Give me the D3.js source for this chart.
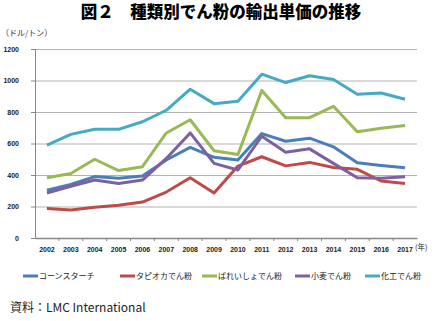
<!DOCTYPE html>
<html>
<head>
<meta charset="utf-8">
<script src="https://cdn.jsdelivr.net/npm/d3@7"></script>
<style>
body { margin: 0; background: #fff; }
text { font-family: "Noto Sans CJK JP", "Liberation Sans", sans-serif; }
</style>
</head>
<body>
<div id="chart"></div>
<script>
var years = ["2002","2003","2004","2005","2006","2007","2008","2009","2010","2011","2012","2013","2014","2015","2016","2017"];
var yTicks = [0, 200, 400, 600, 800, 1000, 1200];

var corn    = [303, 340, 390, 380, 394, 495, 575, 512, 495, 663, 614, 634, 579, 478, 461, 446];
var tapioca = [187, 178, 195, 208, 228, 292, 383, 286, 457, 516, 458, 480, 448, 436, 362, 346];
var potato  = [383, 410, 500, 428, 453, 667, 751, 554, 530, 937, 764, 764, 836, 674, 697, 714];
var wheat   = [286, 329, 368, 346, 368, 505, 667, 474, 432, 646, 545, 566, 474, 383, 379, 389];
var modified= [590, 658, 690, 690, 738, 811, 945, 853, 868, 1040, 987, 1030, 1006, 913, 921, 881];

var seriesNames = ["コーンスターチ", "タピオカでん粉", "ばれいしょでん粉", "小麦でん粉", "化工でん粉"];
var seriesColors = ["#4a7ebb", "#be4b48", "#98b954", "#7d60a0", "#46aac5"];
var seriesData = [corn, tapioca, potato, wheat, modified];

var W = 440, H = 321;
var margin = {top: 49, left: 35, right: 23, bottom: 83};
var width = W - margin.left - margin.right,
    height = H - margin.top - margin.bottom;

var svg = d3.select("#chart").append("svg")
    .attr("width", W)
    .attr("height", H);

// title
svg.append("text")
    .attr("x", 221)
    .attr("y", 18)
    .attr("text-anchor", "middle")
    .style("font-size", "16.5px")
    .style("font-weight", "900")
    .text("図２　種類別でん粉の輸出単価の推移");

svg.append("text")
    .attr("x", 1)
    .attr("y", 36)
    .style("font-size", "8px")
    .style("fill", "#333")
    .text("（ドル/トン）");

var g = svg.append("g")
    .attr("transform", "translate(" + margin.left + "," + margin.top + ")");

var x = d3.scaleBand().domain(years).range([0, width]);
var y = d3.scaleLinear().domain([0, 1200]).range([height, 0]);

// gridlines
g.selectAll(".grid")
    .data(yTicks.filter(function(d) { return d > 0; }))
    .enter().append("line")
    .attr("x1", 0).attr("x2", width)
    .attr("y1", function(d) { return y(d) + 0.5; })
    .attr("y2", function(d) { return y(d) + 0.5; })
    .attr("stroke", "#b3b3b3");

// y axis
var yAxis = g.append("g")
    .call(d3.axisLeft(y).tickValues(yTicks).tickFormat(d3.format("d")).tickSize(4).tickPadding(12));
yAxis.select(".domain").attr("stroke", "#888");
yAxis.selectAll(".tick line").attr("stroke", "#888");
yAxis.selectAll("text")
    .style("font-size", "7px")
    .style("font-family", "Liberation Sans, sans-serif")
    .style("font-weight", "bold")
    .attr("fill", "#222");

// x axis
var xAxis = g.append("g")
    .attr("transform", "translate(0," + height + ")")
    .call(d3.axisBottom(x).tickSize(0).tickPadding(9));
xAxis.select(".domain").attr("stroke", "#888").attr("stroke-width", 1.5);
xAxis.selectAll("text")
    .style("font-size", "7px")
    .style("font-family", "Liberation Sans, sans-serif")
    .style("font-weight", "bold")
    .attr("fill", "#222");

g.selectAll(".xtick")
    .data(years.slice(1))
    .enter().append("line")
    .attr("x1", function(d) { return x(d); })
    .attr("x2", function(d) { return x(d); })
    .attr("y1", height).attr("y2", height + 3)
    .attr("stroke", "#888");

svg.append("text")
    .attr("x", 415)
    .attr("y", 250)
    .style("font-size", "7.5px")
    .attr("fill", "#222")
    .text("(年)");

// lines
var line = d3.line()
    .x(function(d, i) { return x(years[i]) + x.bandwidth() / 2; })
    .y(function(d) { return y(d); });

g.selectAll(".series")
    .data(seriesData)
    .enter().append("path")
    .attr("d", line)
    .attr("fill", "none")
    .attr("stroke", function(d, i) { return seriesColors[i]; })
    .attr("stroke-width", 3)
    .attr("stroke-linejoin", "round");

// legend
var legendX = [23, 120, 202, 295, 365];
var lg = svg.selectAll(".legend")
    .data(seriesNames)
    .enter().append("g")
    .attr("transform", function(d, i) { return "translate(" + legendX[i] + ",276)"; });
lg.append("line")
    .attr("x1", 0).attr("x2", 15)
    .attr("y1", 0).attr("y2", 0)
    .attr("stroke", function(d, i) { return seriesColors[i]; })
    .attr("stroke-width", 3);
lg.append("text")
    .attr("x", 16)
    .attr("y", 3)
    .style("font-size", "8px")
    .attr("fill", "#222")
    .text(function(d) { return d; });

svg.append("text")
    .attr("x", 10)
    .attr("y", 312)
    .style("font-size", "12px")
    .attr("fill", "#222")
    .text("資料：LMC International");
</script>
</body>
</html>
